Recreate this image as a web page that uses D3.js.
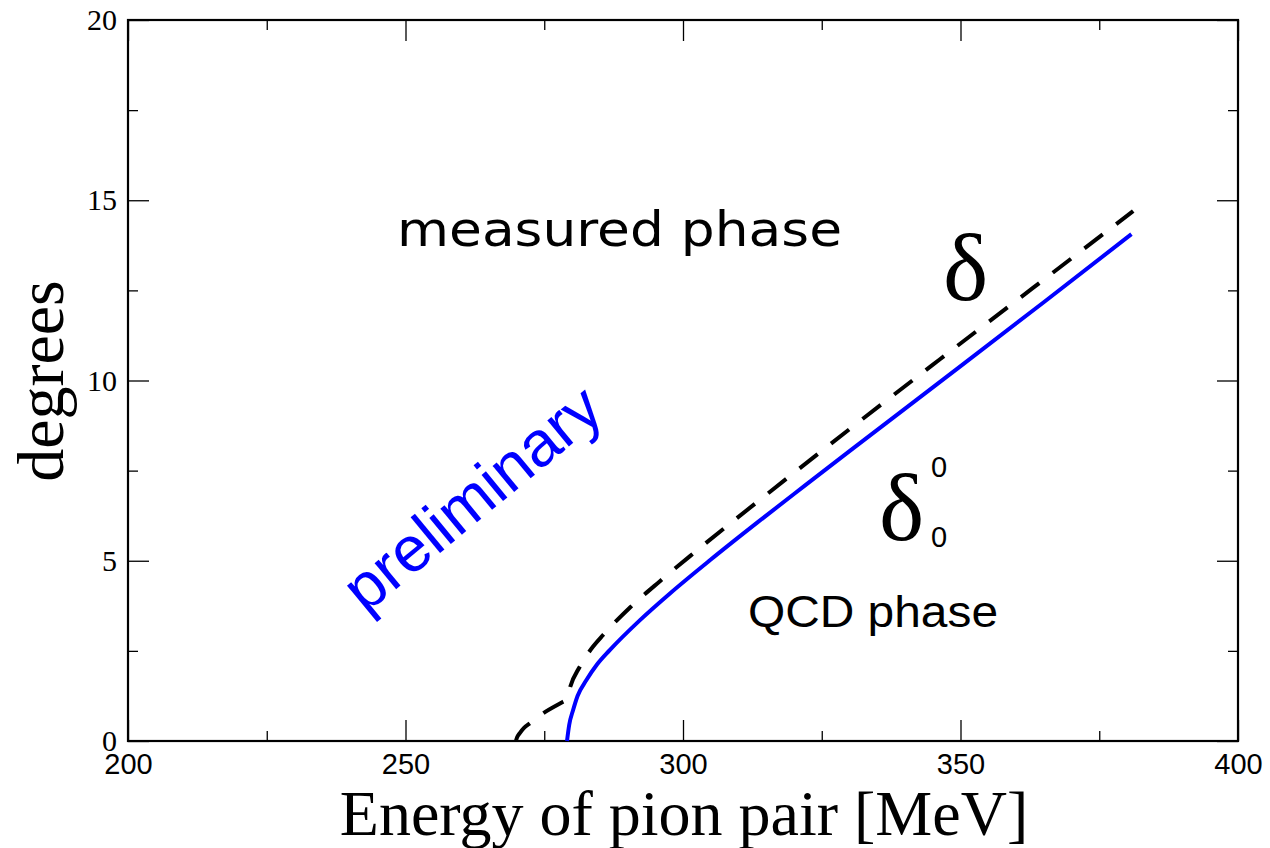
<!DOCTYPE html>
<html>
<head>
<meta charset="utf-8">
<script src="https://cdn.jsdelivr.net/npm/d3@7"></script>
<style>
  html, body { margin: 0; padding: 0; background: #fff; }
  svg { display: block; }
</style>
</head>
<body>
<svg id="chart" width="1270" height="848"></svg>
<script>
// Energy axis (MeV) and phase axis (degrees)
const xMajorTicks = [200, 250, 300, 350, 400];
const xMinorTicks = [225, 275, 325, 375];
const yMajorTicks = [0, 5, 10, 15, 20];
const yMinorTicks = [2.5, 7.5, 12.5, 17.5];

// QCD phase (solid blue), starts at the charged-pion threshold
const qcdEnergy = [279.1, 279.5, 280.2, 281.0, 282.6, 284.5, 286.8, 292.3, 297.7, 304.9, 313.3, 322.0, 330.0, 346.9, 365.0, 380.8];
const qcdPhase  = [0.0,   0.45,  0.86,  1.25,  1.69,  2.12,  2.52,  3.36,  4.10,  5.02,  6.05,  7.09,  8.04,  10.03, 12.17, 14.06];

// Measured phase (dashed black), starts at the neutral-pion threshold
const measEnergy = [269.9, 270.1, 270.6, 271.4, 272.4, 274.8, 278.4, 279.1, 279.6, 281.4, 283.8, 285.6, 290.5, 295.9, 301.9, 315.0, 330.0, 346.3, 363.0, 381.1];
const measPhase  = [0.0,   0.10,  0.22,  0.37,  0.49,  0.77,  1.09,  1.15,  1.46,  2.06,  2.62,  2.94,  3.71,  4.44,  5.21,  6.83,  8.65,  10.59, 12.56, 14.70];

const svg = d3.select("#chart");
const plotLeft = 128, plotRight = 1238, plotTop = 20, plotBottom = 741;

const x = d3.scaleLinear().domain([200, 400]).range([plotLeft, plotRight]);
const y = d3.scaleLinear().domain([0, 20]).range([plotBottom, plotTop]);

const serif = "'Liberation Serif', 'Times New Roman', serif";
const sans = "'Liberation Sans', Arial, sans-serif";

// Ticks pointing into the plot on all four sides
function styleAxis(g, fontFamily, fontSize) {
  g.select(".domain").remove();
  g.selectAll(".tick line").attr("stroke", "#000").attr("stroke-width", 1.3);
  g.selectAll(".tick text")
    .attr("fill", "#000")
    .style("font-family", fontFamily)
    .style("font-size", fontSize + "px");
}

const majorLen = 21, minorLen = 10;

svg.append("g").attr("transform", `translate(0,${plotBottom})`)
  .call(d3.axisBottom(x).tickValues(xMajorTicks).tickSize(-majorLen).tickPadding(12).tickFormat(d3.format("d")))
  .call(g => styleAxis(g, sans, 29));
svg.append("g").attr("transform", `translate(0,${plotBottom})`)
  .call(d3.axisBottom(x).tickValues(xMinorTicks).tickSize(-minorLen).tickFormat(""))
  .call(g => styleAxis(g, sans, 29));
svg.append("g").attr("transform", `translate(0,${plotTop})`)
  .call(d3.axisTop(x).tickValues(xMajorTicks).tickSize(-majorLen).tickFormat(""))
  .call(g => styleAxis(g, sans, 29));
svg.append("g").attr("transform", `translate(0,${plotTop})`)
  .call(d3.axisTop(x).tickValues(xMinorTicks).tickSize(-minorLen).tickFormat(""))
  .call(g => styleAxis(g, sans, 29));

svg.append("g").attr("transform", `translate(${plotLeft},0)`)
  .call(d3.axisLeft(y).tickValues(yMajorTicks).tickSize(-majorLen).tickPadding(11).tickFormat(d3.format("d")))
  .call(g => styleAxis(g, serif, 30));
svg.append("g").attr("transform", `translate(${plotLeft},0)`)
  .call(d3.axisLeft(y).tickValues(yMinorTicks).tickSize(-minorLen).tickFormat(""))
  .call(g => styleAxis(g, serif, 30));
svg.append("g").attr("transform", `translate(${plotRight},0)`)
  .call(d3.axisRight(y).tickValues(yMajorTicks).tickSize(-majorLen).tickFormat(""))
  .call(g => styleAxis(g, serif, 30));
svg.append("g").attr("transform", `translate(${plotRight},0)`)
  .call(d3.axisRight(y).tickValues(yMinorTicks).tickSize(-minorLen).tickFormat(""))
  .call(g => styleAxis(g, serif, 30));

// Plot frame
svg.append("rect")
  .attr("x", plotLeft).attr("y", plotTop)
  .attr("width", plotRight - plotLeft).attr("height", plotBottom - plotTop)
  .attr("fill", "none").attr("stroke", "#000").attr("stroke-width", 2.2);

// Curves
const line = d3.line().x(d => x(d[0])).y(d => y(d[1])).curve(d3.curveMonotoneX);

svg.append("path")
  .datum(measEnergy.map((e, i) => [e, measPhase[i]]))
  .attr("d", line)
  .attr("fill", "none").attr("stroke", "#000").attr("stroke-width", 4)
  .attr("stroke-dasharray", "23,17").attr("stroke-linejoin", "round");

svg.append("path")
  .datum(qcdEnergy.map((e, i) => [e, qcdPhase[i]]))
  .attr("d", line)
  .attr("fill", "none").attr("stroke", "#0000ff").attr("stroke-width", 4)
  .attr("stroke-linejoin", "round");

// Annotations
svg.append("text")
  .attr("x", 397).attr("y", 246)
  .attr("textLength", 445).attr("lengthAdjust", "spacingAndGlyphs")
  .style("font-family", "'DejaVu Sans', sans-serif").style("font-size", "48px")
  .attr("fill", "#000").text("measured phase");

svg.append("text")
  .attr("x", 748).attr("y", 627)
  .attr("textLength", 250).attr("lengthAdjust", "spacingAndGlyphs")
  .style("font-family", sans).style("font-size", "44px")
  .attr("fill", "#000").text("QCD phase");

svg.append("text")
  .attr("transform", "translate(486,515) rotate(-39.5)")
  .attr("text-anchor", "middle")
  .style("font-family", sans).style("font-size", "64px")
  .attr("fill", "#0000ff").text("preliminary");

svg.append("text")
  .attr("x", 943).attr("y", 300)
  .style("font-family", serif).style("font-size", "96px")
  .attr("fill", "#000").text("δ");

svg.append("text")
  .attr("x", 879).attr("y", 540)
  .style("font-family", serif).style("font-size", "96px")
  .attr("fill", "#000").text("δ");
svg.append("text")
  .attr("x", 931).attr("y", 477)
  .style("font-family", sans).style("font-size", "29px")
  .attr("fill", "#000").text("0");
svg.append("text")
  .attr("x", 931).attr("y", 547)
  .style("font-family", sans).style("font-size", "29px")
  .attr("fill", "#000").text("0");

// Axis titles
svg.append("text")
  .attr("x", 684).attr("y", 835)
  .attr("text-anchor", "middle")
  .style("font-family", serif).style("font-size", "64px")
  .attr("fill", "#000").text("Energy of pion pair [MeV]");

svg.append("text")
  .attr("transform", "translate(63,381) rotate(-90)")
  .attr("text-anchor", "middle")
  .style("font-family", serif).style("font-size", "66px")
  .attr("fill", "#000").text("degrees");
</script>
</body>
</html>
